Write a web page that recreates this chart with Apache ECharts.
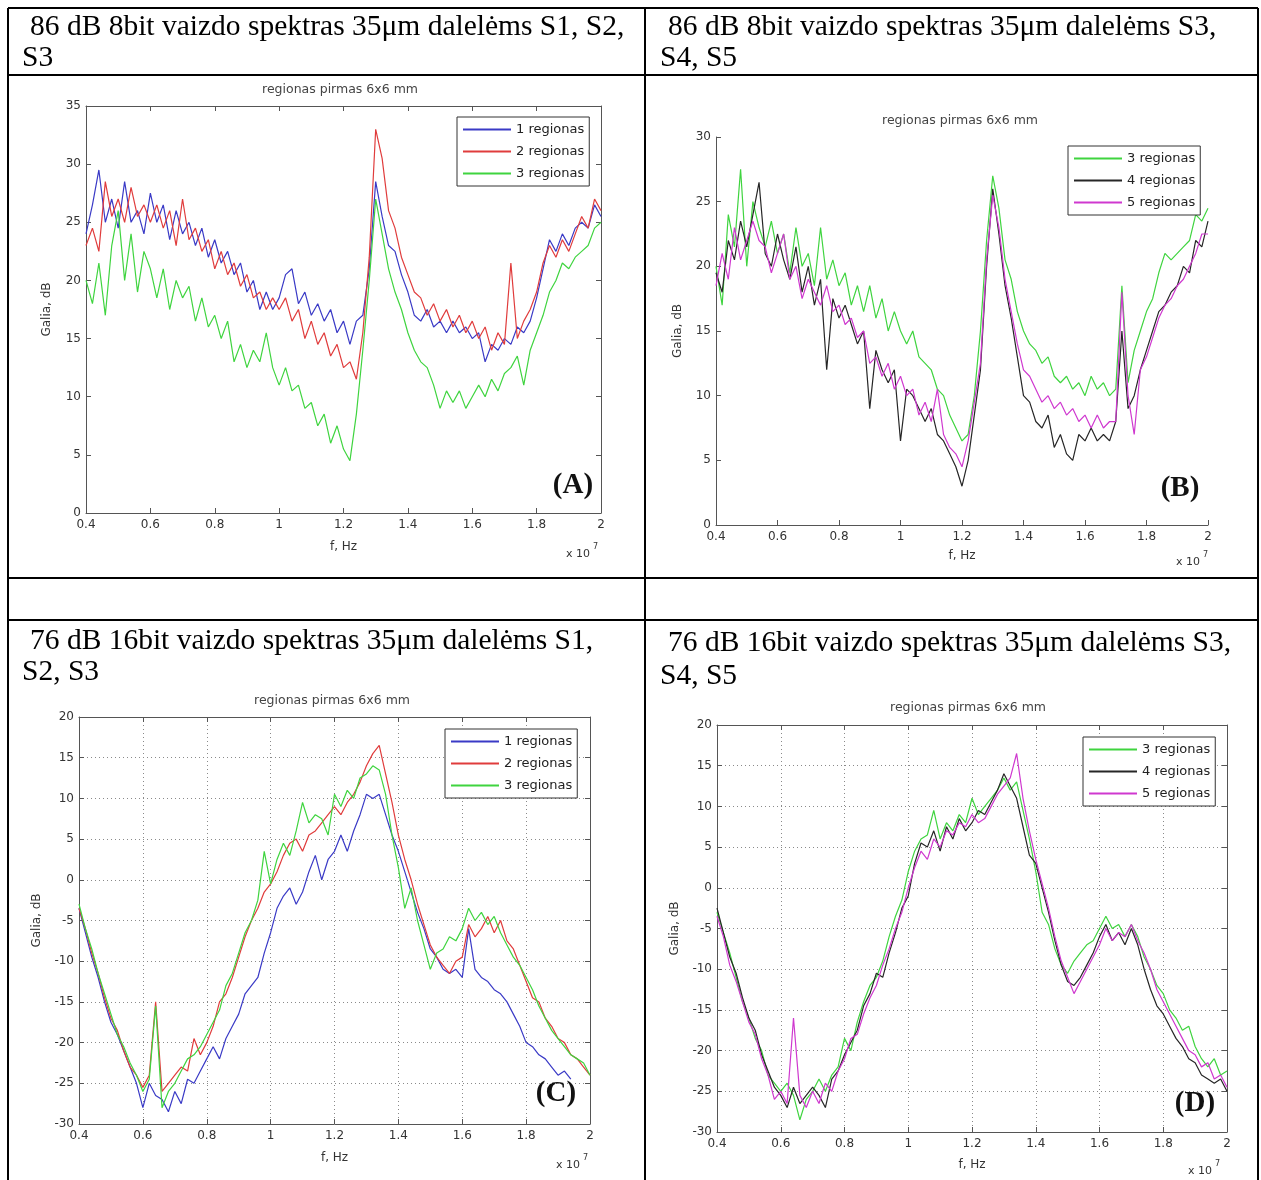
<!DOCTYPE html>
<html><head><meta charset="utf-8">
<script src="https://cdn.jsdelivr.net/npm/echarts@6/dist/echarts.min.js"></script>
<style>html,body{margin:0;padding:0;background:#fff;}#c{width:1261px;height:1180px;}</style>
</head><body><div id="c"></div>
<script>
// frequency (x 10^7 Hz)
const freq = [0.4,0.42,0.44,0.46,0.48,0.5,0.52,0.54,0.56,0.58,0.6,0.62,0.64,0.66,0.68,0.7,0.72,0.74,0.76,0.78,0.8,0.82,0.84,0.86,0.88,0.9,0.92,0.94,0.96,0.98,1,1.02,1.04,1.06,1.08,1.1,1.12,1.14,1.16,1.18,1.2,1.22,1.24,1.26,1.28,1.3,1.32,1.34,1.36,1.38,1.4,1.42,1.44,1.46,1.48,1.5,1.52,1.54,1.56,1.58,1.6,1.62,1.64,1.66,1.68,1.7,1.72,1.74,1.76,1.78,1.8,1.82,1.84,1.86,1.88,1.9,1.92,1.94,1.96,1.98,2];

// (A) 86 dB 8bit, S1-S3
const a1 = [24,26.5,29.5,25,27,24.5,28.5,25,26,24, 27.5,25,26.5,23.5,26,24,25,23,24.5,22, 23.5,21.5,22.5,20.5,21.5,19,20,17.5,19,17.5, 18.5,20.5,21,18,19,17,18,16.5,17.5,15.5, 16.5,14.5,16.5,17,21,28.5,25.5,23,22.5,20.5, 19,17,16.5,17.5,16,16.5,15.5,16.5,15.5,16, 15,15.5,13,14.5,14,15,14.5,16,15.5,16.5, 18.5,21,23.5,22.5,24,23,24.5,25,24.5,26.5,25.5];
const a2 = [23,24.5,22.5,28.5,25.5,27,25,28,25.5,26.5, 25,26.5,24.5,26,23,27,23.5,24.5,22.5,23.5, 21,22.5,20.5,21.5,19.5,20.5,18.5,19,17.5,18.5, 17.5,18.5,16.5,17.5,15,16.5,14.5,15.5,13.5,14.5, 12.5,13,11.5,15.5,22,33,30.5,26,24.5,22, 20.5,19,18.5,17,18,16.5,17.5,16,17,15.5, 16.5,15,16,14,15.5,14.5,21.5,15,16.5,17.5, 19,21.5,23,22,23.5,22.5,24,25.5,24.5,27,26];
const a3 = [20,18,21.5,17,23,26,20,24,19,22.5, 21,18.5,21,17.5,20,18.5,19.5,16.5,18.5,16, 17,15,16.5,13,14.5,12.5,14,13,15.5,12.5, 11,12.5,10.5,11,9,9.5,7.5,8.5,6,7.5, 5.5,4.5,8.5,14,20,27,24,21,19,17.5, 15.5,14,13,12.5,11,9,10.5,9.5,10.5,9, 10,11,10,11.5,10.5,12,12.5,13.5,11,14, 15.5,17,19,20,21.5,21,22,22.5,23,24.5,25];

// (B) 86 dB 8bit, S3-S5
const b3 = [20,17,24,21.5,27.5,20,25,23,21.5,23.5, 21,22.5,19.5,23,20,21,18.5,23,19,20.5, 18.5,19.5,17,18.5,16.5,18.5,16,17.5,15,16.5, 15,14,15,13,12.5,12,10.5,10,8.5,7.5, 6.5,7,10,15,22,27,24.5,20.5,19,16.5, 15,14,13.5,12.5,13,11.5,11,11.5,10.5,11, 10,11.5,10.5,11,10,10.5,18.5,11,13.5,15, 16.5,17.5,19.5,21,20.5,21,21.5,22,24,23.5,24.5];
const b4 = [19.5,18,22,20.5,23.5,21.5,24,26.5,21,20, 22.5,20.5,19,21.5,18,20,17,19,12,17.5, 16,17,15.5,14,15,9,13.5,12,11,12, 6.5,10.5,10,9,8,9,7,6.5,5.5,4.5, 3,5,8.5,12,20,26,22.5,18.5,16,13, 10,9.5,8,7.5,8.5,6,7,5.5,5,7, 6.5,7.5,6.5,7,6.5,8,15,9,10,12, 13.5,15,16.5,17,18,18.5,20,19.5,22,21.5,23.5];
const b5 = [18.5,21,19,23,20.5,22,23.5,22,21.5,19.5, 21,22.5,19,20,17.5,19,18,17,18.5,16.5, 17,15.5,16,14.5,15,12.5,13,11.5,12.5,10.5, 11.5,10,10.5,8.5,9.5,8,10.5,7,6,5.5, 4.5,6.5,9.5,12.5,20.5,25.5,23,19,16.5,14, 12,11.5,10.5,9.5,10,9,9.5,8.5,9,8, 8.5,7.5,8.5,7.5,8,8,18,10,7,12, 13,14.5,16,17,17.5,18.5,19,20,21,22.5,22.5];

// (C) 76 dB 16bit, S1-S3
const c1 = [-3.5,-6.5,-9.5,-12,-15,-17.5,-19,-21,-23,-25, -28,-25,-26.5,-27,-28.5,-26,-27.5,-24.5,-25,-23.5, -22,-20.5,-22,-19.5,-18,-16.5,-14,-13,-12,-9, -6.5,-3.5,-2,-1,-3,-1.5,1,3,0,2.5, 3.5,5.5,3.5,6,8,10.5,10,10.5,8,5.5, 3.5,1,-1.5,-4,-6,-8.5,-9.5,-11,-11.5,-11, -12,-6,-11,-12,-12.5,-13.5,-14,-15,-16.5,-18, -20,-20.5,-21.5,-22,-23,-24,-23.5,-24.5];
const c2 = [-3.5,-6,-9,-11.5,-14.5,-17,-18.5,-21,-23,-24, -25.5,-24,-15,-26,-25,-24,-23,-23.5,-19.5,-21.5, -20,-18,-15,-14,-12,-9.5,-7,-5,-3.5,-1.5, -0.5,1,3,4.5,5,3.5,5.5,6,7,8, 9,8,9.5,10.5,12,14,15.5,16.5,13,9.5, 5.5,2.5,0,-3,-5.5,-8,-9.5,-10.5,-11.5,-10, -9.5,-5.5,-7,-6,-4.5,-6.5,-5,-7.5,-8.5,-10.5, -12.5,-14.5,-15,-17,-18,-19.5,-20,-21.5,-22,-23,-24];
const c3 = [-3,-6,-8.5,-11.5,-14,-16.5,-19,-20.5,-22.5,-24, -26,-24.5,-15.5,-28,-26,-25,-23.5,-22,-21.5,-20.5, -19,-17.5,-16,-13,-11.5,-9,-6.5,-5,-2.5,3.5, -0.5,2.5,4.5,3,6,9.5,7,8,7.5,5.5, 10.5,9,11,10,12.5,13,14,13.5,10.5,5.5, 1.5,-3.5,-1,-5,-8,-11,-9,-8.5,-7,-7.5, -6,-3.5,-5,-4,-5.5,-4.5,-6.5,-8,-9.5,-10.5, -12,-13.5,-15.5,-17,-18.5,-19.5,-20.5,-21.5,-22,-22.5,-24];

// (D) 76 dB 16bit, S3-S5
const d3 = [-3,-5.5,-8,-11,-14,-16,-18.5,-20,-23,-24, -25,-24,-25.5,-28.5,-26,-25,-23.5,-25,-23,-22, -18.5,-20,-16.5,-14,-12,-11,-9,-6,-3.5,-1.5, 2,4.5,6,6.5,9.5,6,8,7,9,8, 11,9,10,11,12,13.5,12,13,9.5,6, 2,-3,-4.5,-7.5,-9.5,-10.5,-9,-8,-7,-6.5, -5,-3.5,-5,-4.5,-6,-4.5,-6,-8.5,-10,-12, -13,-15,-16,-17.5,-17,-19.5,-21,-22,-21,-23,-22.5];
const d4 = [-2.5,-5.5,-8.5,-10.5,-13.5,-16,-17.5,-20.5,-22.5,-24.5, -25.5,-27,-24.5,-26.5,-25.5,-24.5,-25.5,-27,-23.5,-22.5, -20.5,-19,-17.5,-14.5,-13,-10.5,-11,-8,-5.5,-2.5, -1,3,5.5,5,7,4.5,7.5,6,8.5,7, 8,9.5,9,10.5,12,14,12.5,11,7.5,4, 3,0,-3,-6.5,-9.5,-11.5,-12,-11,-9.5,-8, -6,-4.5,-6.5,-5.5,-7,-5,-7,-10,-12.5,-14.5, -15.5,-17,-18.5,-19.5,-21,-21.5,-23,-23.5,-24,-23.5,-25];
const d5 = [-3.5,-6,-9.5,-11.5,-14,-16.5,-18,-21,-23,-26, -25,-26.5,-16,-25.5,-27,-25,-26.5,-24,-25,-22.5, -21,-18.5,-18,-15.5,-13.5,-12,-9.5,-7.5,-5,-3, 0,2.5,4.5,3.5,6,5,7,6.5,8,7.5, 9,8,8.5,10,11.5,12.5,13.5,16.5,11,7, 3.5,0.5,-2.5,-6,-9,-11,-13,-11.5,-10,-8.5, -7,-5,-6.5,-5.5,-6,-4.5,-6.5,-8,-10,-12.5, -14,-15.5,-17,-18.5,-20,-20.5,-22,-21.5,-23.5,-23,-24.5];

const panelTitle = 'regionas pirmas 6x6 mm';
const xName = 'f, Hz';
const yName = 'Galia, dB';
const headers = [
  ['86 dB 8bit vaizdo spektras 35μm dalelėms S1, S2,', 'S3'],
  ['86 dB 8bit vaizdo spektras 35μm dalelėms S3,', 'S4, S5'],
  ['76 dB 16bit vaizdo spektras 35μm dalelėms S1,', 'S2, S3'],
  ['76 dB 16bit vaizdo spektras 35μm dalelėms S3,', 'S4, S5']
];
const panelTags = ['(A)', '(B)', '(C)', '(D)'];

const COL = {blue:'#3a3ac6', red:'#e03c3c', green:'#3fd43f', black:'#262626', magenta:'#cf38cf'};
const panels = [
  {grid:{left:86, top:106, width:515, height:407}, y:[0,35], box:true, dots:false,
   series:[['1 regionas', a1, COL.blue], ['2 regionas', a2, COL.red], ['3 regionas', a3, COL.green]],
   legend:[457,117], yGap:33, xGap:28, title:[340,90], tag:[573,486], mult:[566,554]},
  {grid:{left:716, top:137, width:492, height:388}, y:[0,30], box:false, dots:false,
   series:[['3 regionas', b3, COL.green], ['4 regionas', b4, COL.black], ['5 regionas', b5, COL.magenta]],
   legend:[1068,146], yGap:32, xGap:25, title:[960,121], tag:[1180,489], mult:[1176,562]},
  {grid:{left:79, top:717, width:511, height:407}, y:[-30,20], box:true, dots:true,
   series:[['1 regionas', c1, COL.blue], ['2 regionas', c2, COL.red], ['3 regionas', c3, COL.green]],
   legend:[445,729], yGap:36, xGap:28, title:[332,701], tag:[556,1094], mult:[556,1165]},
  {grid:{left:717, top:725, width:510, height:407}, y:[-30,20], box:true, dots:true,
   series:[['3 regionas', d3, COL.green], ['4 regionas', d4, COL.black], ['5 regionas', d5, COL.magenta]],
   legend:[1083,737], yGap:36, xGap:27, title:[968,708], tag:[1195,1104], mult:[1188,1171]}
];

const FF = 'DejaVu Sans';
const AX = '#555';
const LBL = '#333';
const dotLine = {show:true, lineStyle:{color:'#8a8a8a', type:[1,3], width:1}};

const grid = [], xAxis = [], yAxis = [], series = [], legend = [], graphic = [];
panels.forEach((p, i) => {
  grid.push(Object.assign({containLabel:false}, p.grid));
  xAxis.push({type:'value', gridIndex:i, position:'bottom', min:0.4, max:2, interval:0.2,
    axisLine:{show:true, onZero:false, lineStyle:{color:AX, width:1}},
    axisTick:{show:true, inside:true, length:5, lineStyle:{color:AX}},
    axisLabel:{margin:6, color:LBL, fontSize:12, fontFamily:FF, formatter:v => String(Math.round(v*10)/10)},
    splitLine:p.dots ? dotLine : {show:false},
    name:xName, nameLocation:'middle', nameGap:p.xGap,
    nameTextStyle:{color:LBL, fontSize:12, fontFamily:FF}});
  yAxis.push({type:'value', gridIndex:i, position:'left', min:p.y[0], max:p.y[1], interval:5,
    axisLine:{show:true, onZero:false, lineStyle:{color:AX, width:1}},
    axisTick:{show:true, inside:true, length:5, lineStyle:{color:AX}},
    axisLabel:{margin:5, color:LBL, fontSize:12, fontFamily:FF},
    splitLine:p.dots ? dotLine : {show:false},
    name:yName, nameLocation:'middle', nameGap:p.yGap, nameRotate:90,
    nameTextStyle:{color:LBL, fontSize:12, fontFamily:FF}});
  p.series.forEach(s => {
    series.push({type:'line', name:s[0], xAxisIndex:i, yAxisIndex:i,
      data:s[1].map((v, k) => [freq[k], v]),
      showSymbol:false, symbol:'none', lineStyle:{width:1.2, color:s[2]}, itemStyle:{color:s[2]}});
  });
  legend.push({data:p.series.map(s => s[0]), orient:'vertical', left:p.legend[0], top:p.legend[1],
    icon:'rect', itemWidth:48, itemHeight:2, itemGap:7, padding:[5,5,5,6],
    borderColor:'#333', borderWidth:1, backgroundColor:'#fff', selectedMode:false,
    textStyle:{fontFamily:FF, fontSize:13, color:'#222', lineHeight:15}});
  graphic.push({type:'text', x:p.title[0], y:p.title[1], style:{text:panelTitle, fontFamily:FF, fontSize:12.5, fill:'#444', textAlign:'center', textVerticalAlign:'middle'}});
  graphic.push({type:'text', x:p.tag[0], y:p.tag[1], style:{text:panelTags[i], fontFamily:'Liberation Serif', fontWeight:'bold', fontSize:29, fill:'#111', textAlign:'center', textVerticalAlign:'middle'}});
  graphic.push({type:'text', x:p.mult[0], y:p.mult[1], style:{text:'x 10', fontFamily:FF, fontSize:11, fill:LBL, textAlign:'left', textVerticalAlign:'middle'}});
  graphic.push({type:'text', x:p.mult[0]+27, y:p.mult[1]-7, style:{text:'7', fontFamily:FF, fontSize:8, fill:LBL, textAlign:'left', textVerticalAlign:'middle'}});
});
// box (top/right) axes for A, C, D
panels.forEach((p, i) => {
  if (!p.box) return;
  xAxis.push({type:'value', gridIndex:i, position:'top', min:0.4, max:2, interval:0.2,
    axisLine:{show:true, onZero:false, lineStyle:{color:AX, width:1}},
    axisTick:{show:true, inside:true, length:5, lineStyle:{color:AX}},
    axisLabel:{show:false}, splitLine:{show:false}});
  yAxis.push({type:'value', gridIndex:i, position:'right', min:p.y[0], max:p.y[1], interval:5,
    axisLine:{show:true, onZero:false, lineStyle:{color:AX, width:1}},
    axisTick:{show:true, inside:true, length:5, lineStyle:{color:AX}},
    axisLabel:{show:false}, splitLine:{show:false}});
});

// table frame
const L = (x1, y1, x2, y2) => ({type:'line', shape:{x1, y1, x2, y2}, style:{stroke:'#000', lineWidth:2}, z:10});
graphic.push(L(8,8,1258,8), L(8,75,1258,75), L(8,578,1258,578), L(8,620,1258,620),
  L(8,8,8,1180), L(645,8,645,1180), L(1258,8,1258,1180));
// header text
const hdrPos = [[30,27,22,58],[668,27,660,58],[30,641,22,672],[668,643,660,676]];
headers.forEach((h, i) => {
  const q = hdrPos[i];
  graphic.push({type:'text', x:q[0], y:q[1], style:{text:h[0], fontFamily:'Liberation Serif', fontSize:29.5, fill:'#000', textAlign:'left', textVerticalAlign:'middle'}});
  graphic.push({type:'text', x:q[2], y:q[3], style:{text:h[1], fontFamily:'Liberation Serif', fontSize:29.5, fill:'#000', textAlign:'left', textVerticalAlign:'middle'}});
});

const chart = echarts.init(document.getElementById('c'), null, {renderer:'canvas'});
chart.setOption({animation:false, backgroundColor:'#fff', grid, xAxis, yAxis, series, legend, graphic});
</script></body></html>
